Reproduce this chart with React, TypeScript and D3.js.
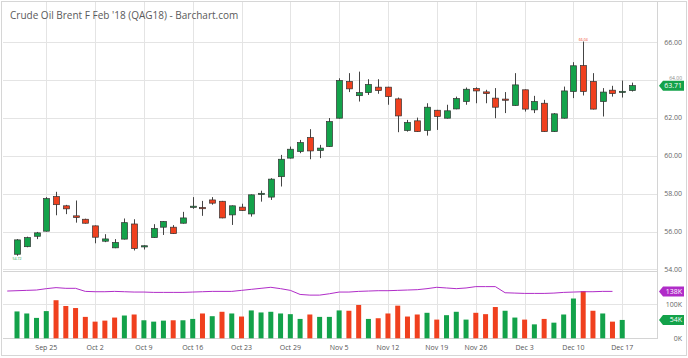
import React from "react";
import * as d3 from "d3";

// daily OHLC, Sep 20 - Dec 18
var opens = [54.80, 55.20, 55.75, 56.02, 57.85, 57.36, 56.83, 56.65, 56.30, 55.49, 55.14, 55.60, 56.40, 55.22, 55.68, 56.23,
  56.23, 56.44, 57.29, 57.27, 57.67, 57.60, 56.88, 57.29, 56.93, 57.97, 57.82, 58.90, 59.88, 60.23, 60.97, 60.28,
  60.49, 61.99, 63.93, 63.18, 63.34, 63.63, 63.63, 63.01, 61.34, 61.85, 61.34, 62.41, 61.99, 62.48, 62.87, 63.56,
  63.38, 63.05, 63.00, 62.66, 63.49, 62.43, 62.78, 61.28, 61.99, 63.40, 64.77, 63.93, 62.87, 63.47, 63.38, 63.45];
var highs = [55.60, 55.73, 55.98, 57.82, 58.10, 57.41, 57.64, 56.68, 56.32, 55.86, 55.60, 56.69, 56.65, 55.27, 56.39, 56.55,
  56.34, 57.04, 57.82, 57.62, 57.82, 57.62, 57.38, 57.47, 57.96, 58.16, 58.82, 60.05, 60.49, 60.84, 61.41, 60.58,
  62.00, 64.10, 64.37, 64.45, 64.05, 64.05, 63.65, 63.08, 61.90, 62.02, 62.78, 62.43, 62.70, 63.13, 63.61, 63.62,
  63.49, 63.58, 63.37, 64.37, 63.51, 63.17, 62.96, 62.26, 63.66, 64.95, 66.04, 64.37, 63.58, 63.70, 63.98, 63.87];
var lows = [54.72, 55.17, 55.60, 56.00, 56.86, 56.92, 56.47, 56.42, 55.38, 55.44, 55.12, 55.58, 55.00, 55.05, 55.66, 55.82,
  55.87, 56.42, 57.20, 56.83, 57.42, 56.70, 56.35, 57.09, 56.79, 57.58, 57.67, 58.38, 59.86, 60.14, 59.82, 59.88,
  60.47, 61.97, 63.37, 62.87, 63.22, 63.28, 62.70, 61.25, 61.28, 61.26, 61.07, 61.37, 61.97, 62.46, 62.70, 62.78,
  62.78, 61.99, 62.26, 62.64, 62.34, 62.26, 61.26, 61.26, 61.97, 63.05, 63.19, 62.45, 62.08, 63.13, 63.08, 63.40];
var closes = [55.56, 55.68, 55.93, 57.74, 57.42, 57.20, 56.74, 56.44, 55.70, 55.61, 55.42, 56.47, 55.10, 55.25, 56.16, 56.53,
  55.89, 56.72, 57.34, 57.21, 57.50, 56.72, 57.36, 57.11, 57.94, 58.02, 58.77, 59.82, 60.35, 60.70, 60.26, 60.41,
  61.81, 63.98, 63.54, 63.34, 63.77, 63.45, 63.13, 62.11, 61.76, 61.28, 62.57, 62.08, 62.38, 63.03, 63.52, 63.43,
  63.29, 62.57, 62.95, 63.75, 62.47, 62.87, 61.28, 62.22, 63.43, 64.76, 63.40, 62.47, 63.37, 63.29, 63.41, 63.71];

// volume (K), last session has none yet
var volumes = [79, 73, 60, 80, 112, 95, 89, 63, 49, 52, 61, 67, 70, 53, 49, 52,
  53, 53, 57, 73, 65, 78, 73, 64, 82, 76, 78, 73, 71, 57, 70, 63,
  63, 82, 81, 98, 57, 59, 73, 96, 64, 70, 75, 55, 68, 78, 55, 75,
  71, 92, 81, 61, 55, 41, 57, 46, 70, 117, 139, 81, 73, 49, 54];

// open interest (K)
var openInterest = [139, 140, 141, 142, 146, 149, 147, 147, 138, 137, 137, 138, 137, 136, 136, 135,
  135, 135, 135, 136, 137, 138, 138, 138, 141, 144, 147, 150, 146, 141, 129, 127,
  127, 131, 136, 136, 138, 139, 140, 140, 141, 142, 143, 146, 150, 148, 146, 148,
  152, 152, 152, 134, 133, 132, 132, 132, 133, 135, 136, 137, 137, 138, 138];

var tickIndex = [3, 8, 13, 18, 23, 28, 33, 38, 43, 47, 52, 57, 62];
var tickLabels = ["Sep 25", "Oct 2", "Oct 9", "Oct 16", "Oct 23", "Oct 29", "Nov 5", "Nov 12", "Nov 19", "Nov 26", "Dec 3", "Dec 10", "Dec 17"];
var priceTicks = [54, 56, 58, 60, 62, 64, 66];

var GREEN = "#13a24a";
var RED = "#f0401e";
var PURPLE = "#b02cc8";
var GRID = "#e4e4e4";
var FONT = "'Open Sans', sans-serif";

export default function App() {
  var width = 688, height = 358;
  var x = d3.scaleLinear().domain([0, opens.length - 1]).range([17, 632]);
  var step = x(1) - x(0);
  var y = d3.scaleLinear().domain([54, 66]).range([269.4, 42.3]);
  var yv = d3.scaleLinear().domain([0, 100]).range([338.3, 304.3]);

  var oiLine = d3.line<number>()
    .x((d, i) => x(i) - step)
    .y(d => yv(d));

  var last = closes[closes.length - 1];
  var lastVol = volumes[volumes.length - 1];
  var lastOi = openInterest[openInterest.length - 1];

  function tag(cy: number, color: string, label: string) {
    return (
      <g>
        <path d={`M659,${cy} L663,${cy - 5} L684,${cy - 5} L684,${cy + 5} L663,${cy + 5} Z`} fill={color} />
        <text x={682} y={cy} dy="0.35em" textAnchor="end" fontSize={7} fill="#fff" fontFamily={FONT}>{label}</text>
      </g>
    );
  }

  return (
    <svg width={width} height={height} style={{ position: "absolute", left: 0, top: 0 }} fontFamily={FONT}>
      <rect x={0} y={0} width={width} height={height} fill="#fff" />
      <rect x={1.5} y={1.5} width={685} height={354} fill="none" stroke="#d6d6d6" />

      {/* grid */}
      {priceTicks.map(t => (
        <line key={"h" + t} x1={3} x2={657} y1={Math.round(y(t)) + 0.5} y2={Math.round(y(t)) + 0.5} stroke={GRID} />
      ))}
      <line x1={3} x2={657} y1={Math.round(yv(100)) + 0.5} y2={Math.round(yv(100)) + 0.5} stroke={GRID} />
      {tickIndex.map(i => (
        <line key={"v" + i} x1={Math.round(x(i)) + 0.5} x2={Math.round(x(i)) + 0.5} y1={2} y2={338} stroke={GRID} />
      ))}
      <line x1={3} x2={657} y1={271.5} y2={271.5} stroke="#d4d4d4" />
      <line x1={3} x2={657} y1={338.5} y2={338.5} stroke="#d4d4d4" />
      <line x1={657.5} x2={657.5} y1={2} y2={339} stroke="#d4d4d4" />

      <text x={10} y={19} fontSize={10} fill="#5a5a5a">Crude Oil Brent F Feb '18 (QAG18) - Barchart.com</text>

      {/* candles */}
      {opens.map((o, i) => {
        var c = closes[i];
        var up = c >= o;
        var top = y(Math.max(o, c));
        var bot = y(Math.min(o, c));
        var cx = Math.round(x(i)) + 0.5;
        return (
          <g key={"c" + i}>
            <line x1={cx} x2={cx} y1={y(highs[i])} y2={y(lows[i])} stroke="#444" />
            <rect x={cx - 3} y={top} width={6} height={Math.max(bot - top, 1.2)}
              fill={up ? GREEN : RED} stroke="#333" strokeWidth={0.7} />
          </g>
        );
      })}
      <text x={x(58)} y={y(highs[58]) - 1} textAnchor="middle" fontSize={3.5} fill={RED}>66.04</text>
      <text x={x(0)} y={y(lows[0]) + 4} textAnchor="middle" fontSize={3.5} fill={GREEN}>54.72</text>

      {/* volume */}
      {volumes.map((v, i) => {
        var up = i === 0 || closes[i] >= closes[i - 1];
        return (
          <rect key={"v" + i} x={x(i) - 2.5} y={yv(v)} width={5} height={yv(0) - yv(v)} fill={up ? GREEN : RED} />
        );
      })}
      <path d={oiLine(openInterest) || ""} fill="none" stroke={PURPLE} strokeWidth={1} />

      {/* right axis */}
      {priceTicks.filter(t => Math.abs(y(t) - y(last)) > 8).map(t => (
        <text key={"p" + t} x={682} y={y(t)} dy="0.35em" textAnchor="end" fontSize={7} fill="#666">{t.toFixed(2)}</text>
      ))}
      {priceTicks.filter(t => Math.abs(y(t) - y(last)) <= 8).map(t => (
        <text key={"q" + t} x={682} y={y(last) - 6} textAnchor="end" fontSize={5} fill="#888">{t.toFixed(2)}</text>
      ))}
      <text x={682} y={yv(100)} dy="0.35em" textAnchor="end" fontSize={7} fill="#666">100K</text>
      <text x={682} y={yv(0)} dy="0.35em" textAnchor="end" fontSize={7} fill="#666">0K</text>
      {tag(y(last), GREEN, last.toFixed(2))}
      {tag(yv(lastOi), PURPLE, lastOi + "K")}
      {tag(yv(lastVol), GREEN, lastVol + "K")}

      {/* dates */}
      {tickIndex.map((t, k) => (
        <text key={"d" + t} x={x(t)} y={350} textAnchor="middle" fontSize={7} fill="#555">{tickLabels[k]}</text>
      ))}
    </svg>
  );
}
